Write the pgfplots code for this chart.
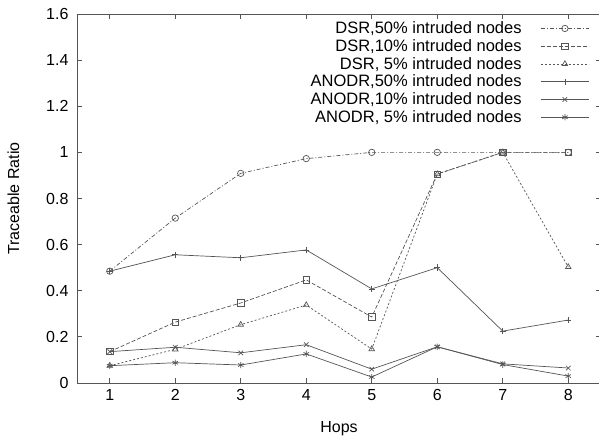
\documentclass[border=0pt]{standalone}
\usepackage{fontspec}
\setmainfont{Liberation Sans}
\usepackage{pgfplots}
\pgfplotsset{compat=1.18}
\definecolor{ln}{HTML}{555555}
\begin{document}
\begin{tikzpicture}
\begin{axis}[
  at={(0pt,0pt)}, anchor=south west,
  scale only axis, width=524pt, height=369pt,
  xmin=0.5, xmax=8.5, ymin=0, ymax=1.6,
  xtick={1,2,3,4,5,6,7,8},
  ytick={0,0.2,0.4,0.6,0.8,1,1.2,1.4,1.6},
  /pgf/number format/assume math mode=true,
  tick label style={font=\fontsize{16}{19}\selectfont},
  yticklabel style={xshift=-5pt},
  xticklabel style={yshift=-3pt},
  label style={font=\fontsize{16}{19}\selectfont},
  xlabel={Hops}, ylabel={Traceable Ratio},
  xlabel style={yshift=-14pt},
  ylabel style={yshift=20pt},
  axis line style={ln, line width=0.9pt},
  major tick length=5pt,
  tick style={ln, line width=0.8pt},
  every axis plot/.append style={ln, line width=0.7pt, mark size=3.2pt, mark options={solid}},
  legend plot pos=right,
  legend image code/.code={\draw[mark repeat=2,mark phase=2,#1] plot coordinates {(0pt,0pt) (24pt,0pt) (48pt,0pt)};},
  legend style={draw=none, fill=none, at={(0.978,0.985)}, anchor=north east, inner sep=0pt,
    font=\fontsize{16.5}{19}\selectfont, row sep=0.3pt, column sep=17pt, cells={anchor=east}},
]
\addplot[dash pattern=on 4pt off 2pt on 1pt off 2pt, mark=o] coordinates {(1,0.485) (2,0.715) (3,0.909) (4,0.973) (5,1.0) (6,1.0) (7,1.0) (8,1.0)};
\addlegendentry{DSR,50\% intruded nodes}
\addplot[dash pattern=on 4pt off 2pt, mark=square] coordinates {(1,0.136) (2,0.264) (3,0.347) (4,0.447) (5,0.286) (6,0.906) (7,1.0) (8,1.0)};
\addlegendentry{DSR,10\% intruded nodes}
\addplot[dash pattern=on 2pt off 2pt, mark=triangle] coordinates {(1,0.075) (2,0.146) (3,0.253) (4,0.338) (5,0.147) (6,0.906) (7,1.0) (8,0.503)};
\addlegendentry{DSR, 5\% intruded nodes}
\addplot[solid, mark=+] coordinates {(1,0.485) (2,0.556) (3,0.543) (4,0.577) (5,0.408) (6,0.5) (7,0.225) (8,0.273)};
\addlegendentry{ANODR,50\% intruded nodes}
\addplot[solid, mark=x] coordinates {(1,0.136) (2,0.155) (3,0.131) (4,0.166) (5,0.06) (6,0.157) (7,0.083) (8,0.065)};
\addlegendentry{ANODR,10\% intruded nodes}
\addplot[solid, mark=asterisk] coordinates {(1,0.075) (2,0.088) (3,0.078) (4,0.126) (5,0.026) (6,0.157) (7,0.08) (8,0.03)};
\addlegendentry{ANODR, 5\% intruded nodes}
\end{axis}
\pgfresetboundingbox
\path[use as bounding box] (-77pt,-56pt) rectangle (522pt,383pt);
\end{tikzpicture}
\end{document}
